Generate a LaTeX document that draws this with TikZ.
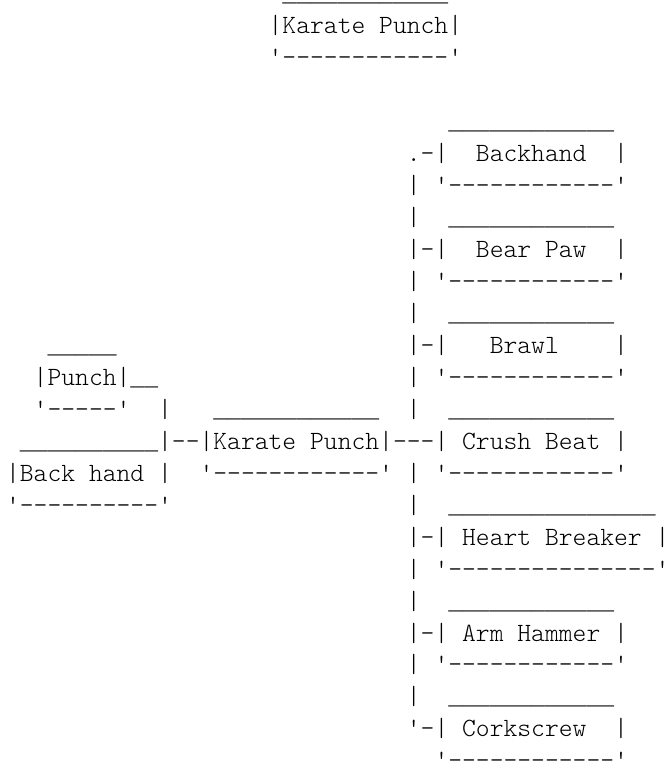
\documentclass[tikz,border=0pt]{standalone}
\usepackage{fontspec}
\setmonofont{lmmonolt10-regular.otf}
\newfontfamily\barfont{Liberation Mono}

\newcommand\unders[1]{{\barfont\fontsize{17.27pt}{20pt}\selectfont\foreach \ii in {1,...,#1}{\_}}}
\newcommand\dashes[1]{'\foreach \ii in {1,...,#1}{-}'}

\begin{document}
\begin{tikzpicture}[x=10.365pt, y=-23.9625pt,
  ascii/.style={anchor=base west, inner sep=0pt, outer sep=0pt,
    xshift=4.57pt, yshift=-1.5pt,
    font=\ttfamily\fontsize{19.74pt}{22pt}\selectfont}]

  \useasboundingbox (0pt,0pt) rectangle (500.25pt,-572.25pt);

  % Define nodes
  \node[ascii] (toptop)    at (20,0)  {\unders{12}};
  \node[ascii] (top)       at (19,1)  {|Karate Punch|};
  \node[ascii] (topbot)    at (19,2)  {\dashes{12}};

  \node[ascii] (punchtop)  at (3,11)  {\unders{5}};
  \node[ascii] (punch)     at (2,12)  {|Punch|};
  \node[ascii] (punchbot)  at (2,13)  {\dashes{5}};

  \node[ascii] (backtop)   at (1,14)  {\unders{10}};
  \node[ascii] (back)      at (0,15)  {|Back hand~|};
  \node[ascii] (backbot)   at (0,16)  {\dashes{10}};

  \node[ascii] (karatetop) at (15,13) {\unders{12}};
  \node[ascii] (karate)    at (14,14) {|Karate Punch|};
  \node[ascii] (karatebot) at (14,15) {\dashes{12}};

  \foreach \r/\lbl/\n/\nm in {5/{|~~Backhand~~|}/12/backhand,
      8/{|~~Bear Paw~~|}/12/bearpaw, 11/{|~~~Brawl~~~~|}/12/brawl,
      14/{|~Crush Beat~|}/12/crush, 17/{|~Heart Breaker~|}/15/heart,
      20/{|~Arm Hammer~|}/12/arm, 23/{|~Corkscrew~~|}/12/cork} {
    \node[ascii] (top\nm) at (32,\r-1) {\unders{\n}};
    \node[ascii] (\nm)    at (31,\r)   {\lbl};
    \node[ascii] (bot\nm) at (31,\r+1) {\dashes{\n}};
  }

  % Connect the nodes
  \node[ascii] (punchtail) at (9,12)  {\unders{2}};
  \node[ascii] (punchdrop) at (11,13) {|};
  \node[ascii] (join)      at (11,14) {|--};
  \node[ascii] (branch)    at (28,14) {---};
  \node[ascii] (first)     at (29,5)  {.-};
  \node[ascii] (last)      at (29,23) {'-};
  \foreach \r in {8,11,17,20}
    \node[ascii] (fork\r) at (29,\r) {|-};
  \foreach \r in {6,7,9,10,12,13,15,16,18,19,21,22}
    \node[ascii] (trunk\r) at (29,\r) {|};

\end{tikzpicture}
\end{document}
